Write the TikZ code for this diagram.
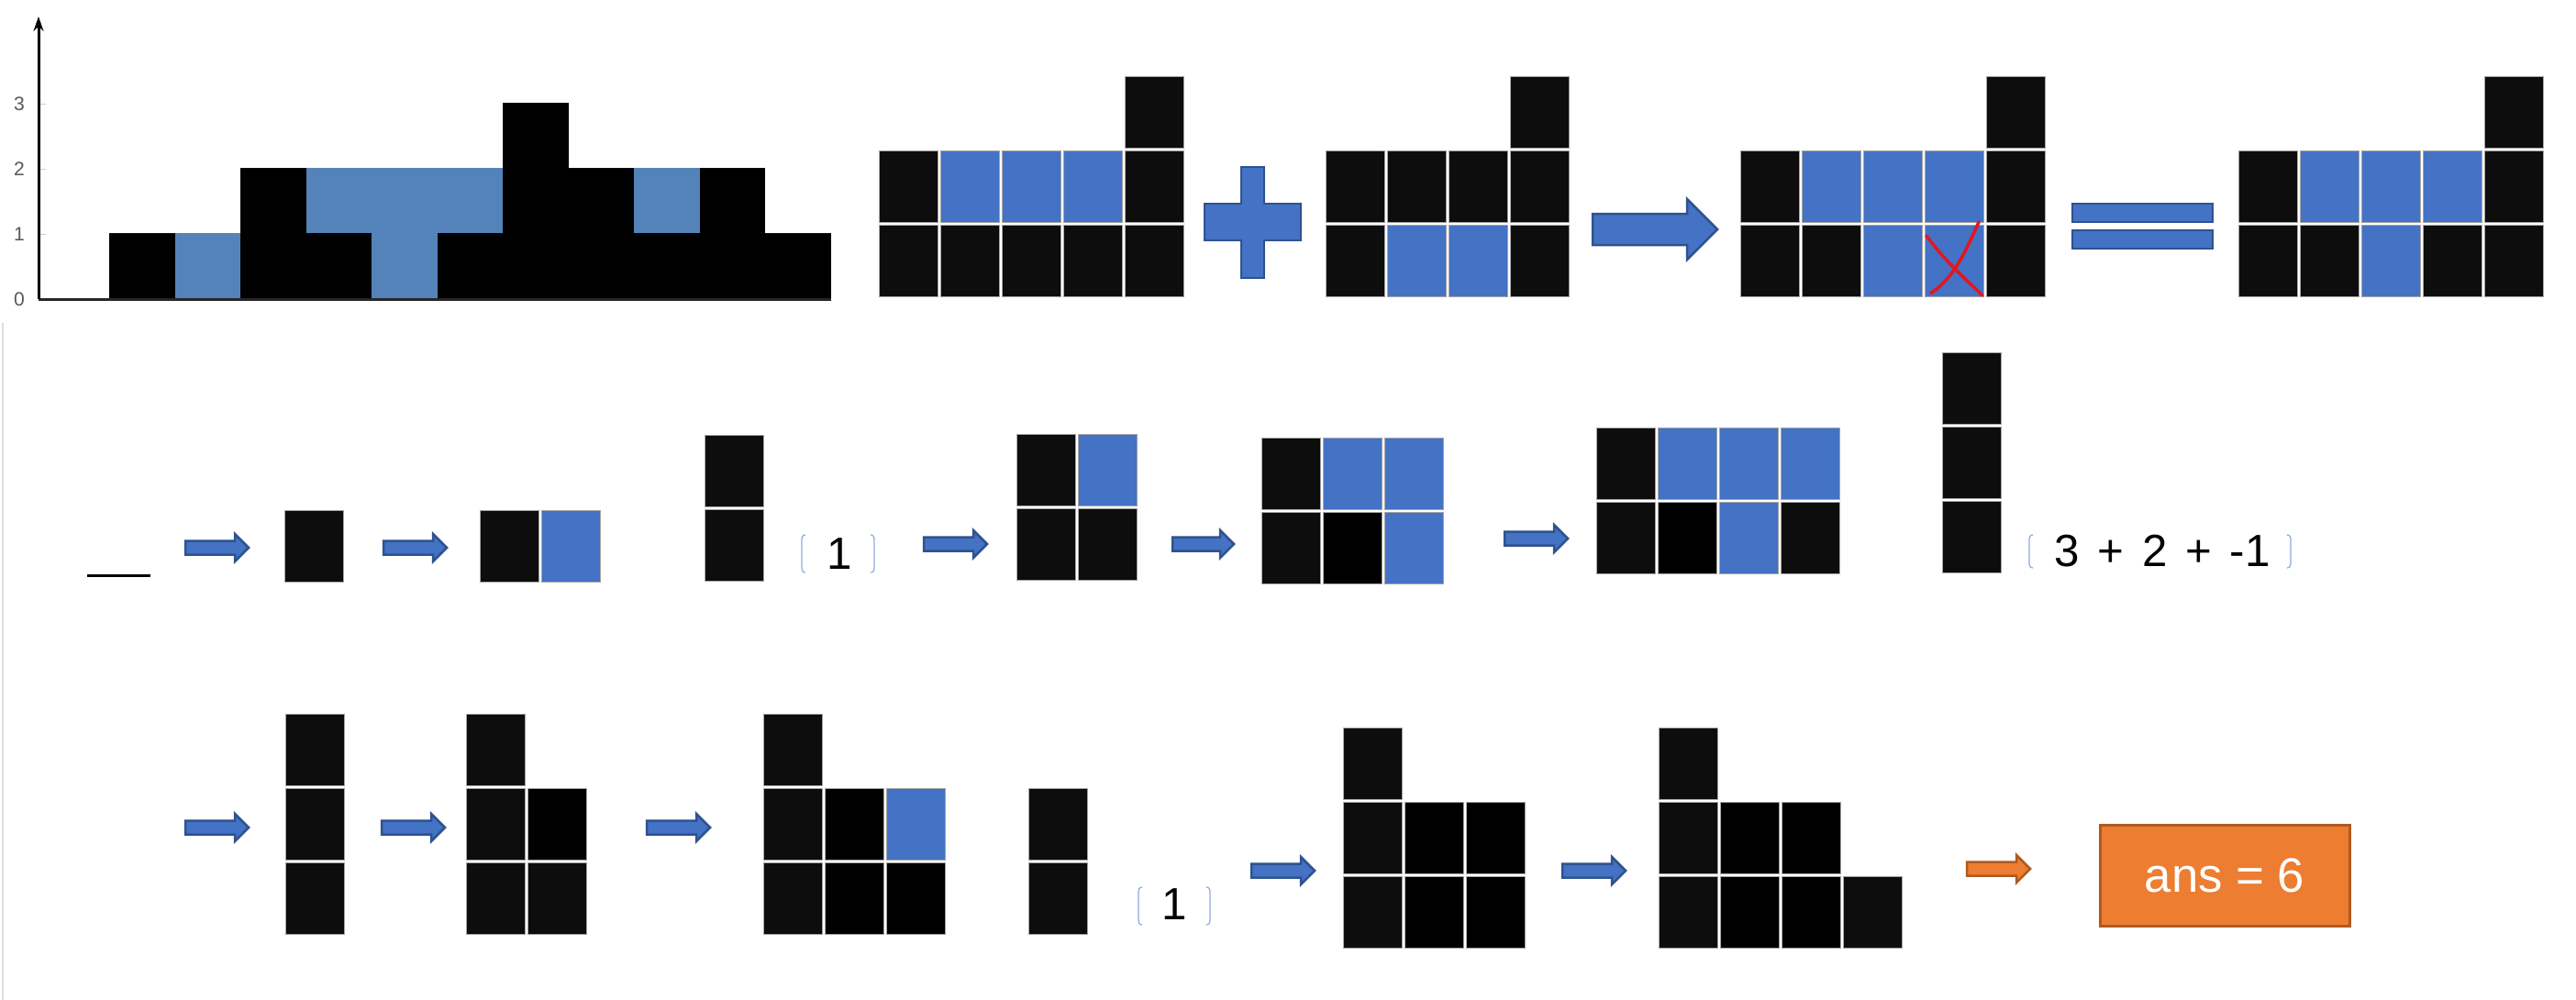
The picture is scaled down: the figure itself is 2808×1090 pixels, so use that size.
\documentclass[tikz,border=0pt]{standalone}
\usepackage{fontspec}
\setmainfont{Liberation Sans}
\usepackage{tikz}
\usetikzlibrary{arrows.meta}
\definecolor{blk}{RGB}{13,13,13}
\definecolor{cellblue}{RGB}{68,114,196}
\definecolor{waterblue}{RGB}{84,131,186}
\definecolor{arrowline}{RGB}{47,82,143}
\definecolor{orangefill}{RGB}{237,125,49}
\definecolor{orangeline}{RGB}{174,90,33}
\definecolor{xred}{RGB}{228,22,32}
\definecolor{bracketblue}{RGB}{143,170,220}
\definecolor{ticktext}{RGB}{89,89,89}
\newfontfamily\numfont[WordSpace=1.45]{Liberation Sans}
\tikzset{
  cellline/.style={draw=gray!70,line width=0.25pt},
  bluearrow/.style={fill=cellblue,draw=arrowline,line width=0.25mm},
  orangearrow/.style={fill=orangefill,draw=orangeline,line width=0.25mm},
  numlbl/.style={font=\numfont\fontsize{14}{16}\selectfont,inner sep=0pt},
  ticklbl/.style={font=\fontsize{6}{7}\selectfont,text=ticktext,inner sep=0pt},
  bracket/.style={draw=bracketblue,line width=0.35pt},
  xmark/.style={draw=xred,line width=0.35mm,line cap=round}
}
\newcommand{\cellgrid}[3]{%
  \foreach \c/\r/\k in {#3}
    \filldraw[cellline,fill=\k] ({#1+67*\c},{#2+81*\r}) rectangle +(64,78);}
\newcommand{\blockarrow}[4][bluearrow]{%
  \filldraw[#1] ({#2},{#4-7.5}) -- ({#3-15},{#4-7.5}) -- ({#3-15},{#4-15}) -- ({#3},{#4})
    -- ({#3-15},{#4+15}) -- ({#3-15},{#4+7.5}) -- ({#2},{#4+7.5}) -- cycle;}
\newcommand{\bracketpair}[4]{%
  \draw[bracket] ({#1+4},{#3}) .. controls ({#1},{#3}) and ({#1},{#3+3}) .. ({#1},{#3+8})
    -- ({#1},{#4-8}) .. controls ({#1},{#4-3}) and ({#1},{#4}) .. ({#1+4},{#4});
  \draw[bracket] ({#2-4},{#3}) .. controls ({#2},{#3}) and ({#2},{#3+3}) .. ({#2},{#3+8})
    -- ({#2},{#4-8}) .. controls ({#2},{#4-3}) and ({#2},{#4}) .. ({#2-4},{#4});}

\begin{document}
\begin{tikzpicture}[x=0.1mm,y=-0.1mm]
        \useasboundingbox (0,0) rectangle (2808,1090);
        \fill[white] (0,0) rectangle (2808,1090);
        \draw[gray!25,line width=0.2mm] (3,352) -- (3,1090);
        \foreach \i/\h/\w in {0/0/0,1/1/0,2/0/1,3/2/0,4/1/1,5/0/2,6/1/1,7/3/0,8/2/0,9/1/1,10/2/0,11/1/0}{
          \fill[black] ({47.5+71.5*\i},325) rectangle +(71.5,{-71*\h});
          \fill[waterblue] ({47.5+71.5*\i},{325-71*\h}) rectangle +(71.5,{-71*\w});
        }
        \foreach \v in {0,...,3}{
          \draw[gray!40,line width=0.2pt] (42,{326-71*\v}) -- (50,{326-71*\v});
          \node[ticklbl] (tick\v) at (21,{326-71*\v}) {\v};
        }
        \draw[black!85,line width=0.3mm] (42,326) -- (906,326);
        \draw[black,line width=0.3mm,-{Stealth[length=1.6mm,width=1.1mm]}] (42,326) -- (42,18);
        \cellgrid{958}{83}{4/0/blk,0/1/blk,1/1/cellblue,2/1/cellblue,3/1/cellblue,4/1/blk,0/2/blk,1/2/blk,2/2/blk,3/2/blk,4/2/blk}
        \filldraw[bluearrow] (1353,182) -- (1378,182) -- (1378,222) -- (1418,222) -- (1418,262) -- (1378,262)
          -- (1378,303) -- (1353,303) -- (1353,262) -- (1313,262) -- (1313,222) -- (1353,222) -- cycle;
        \cellgrid{1445}{83}{3/0/blk,0/1/blk,1/1/blk,2/1/blk,3/1/blk,0/2/blk,1/2/cellblue,2/2/cellblue,3/2/blk}
        \filldraw[bluearrow] (1736,233) -- (1839,233) -- (1839,217) -- (1872,250) -- (1839,283) -- (1839,267)
          -- (1736,267) -- cycle;
        \cellgrid{1897}{83}{4/0/blk,0/1/blk,1/1/cellblue,2/1/cellblue,3/1/cellblue,4/1/blk,0/2/blk,1/2/blk,2/2/cellblue,3/2/cellblue,4/2/blk}
        \draw[xmark] (2100,257) .. controls (2118,282) and (2140,302) .. (2161,322);
        \draw[xmark] (2157,242) .. controls (2145,268) and (2132,302) .. (2104,320) -- (2110,316);
        \filldraw[bluearrow] (2259,222) rectangle (2412,242);
        \filldraw[bluearrow] (2259,251) rectangle (2412,271);
        \cellgrid{2440}{83}{4/0/blk,0/1/blk,1/1/cellblue,2/1/cellblue,3/1/cellblue,4/1/blk,0/2/blk,1/2/blk,2/2/cellblue,3/2/blk,4/2/blk}
        \draw[black,line width=0.3mm] (95,627) -- (164,627);
        \blockarrow{202}{271}{597}
        \cellgrid{310}{556}{0/0/blk}
        \blockarrow{418}{487}{597}
        \cellgrid{523}{556}{0/0/blk,1/0/cellblue}
        \cellgrid{768}{474}{0/0/blk,0/1/blk}
        \node[numlbl] (one) at (915,604) {1};
        \bracketpair{874}{953}{583}{624}
        \blockarrow{1007}{1076}{593}
        \cellgrid{1108}{473}{0/0/blk,1/0/cellblue,0/1/blk,1/1/blk}
        \blockarrow{1278}{1345}{593}
        \cellgrid{1375}{477}{0/0/blk,1/0/cellblue,2/0/cellblue,0/1/blk,1/1/black,2/1/cellblue}
        \blockarrow{1640}{1709}{587}
        \cellgrid{1740}{466}{0/0/blk,1/0/cellblue,2/0/cellblue,3/0/cellblue,0/1/blk,1/1/black,2/1/cellblue,3/1/blk}
        \cellgrid{2117}{384}{0/0/blk,0/1/blk,0/2/blk}
        \node[numlbl] (sum) at (2357,601) {3 + 2 + -1};
        \bracketpair{2212}{2497}{583}{619}
        \blockarrow{202}{271}{902}
        \cellgrid{311}{778}{0/0/blk,0/1/blk,0/2/blk}
        \blockarrow{416}{485}{902}
        \cellgrid{508}{778}{0/0/blk,0/1/blk,1/1/black,0/2/blk,1/2/blk}
        \blockarrow{705}{774}{902}
        \cellgrid{832}{778}{0/0/blk,0/1/blk,1/1/black,2/1/cellblue,0/2/blk,1/2/black,2/2/black}
        \cellgrid{1121}{859}{0/0/blk,0/1/blk}
        \node[numlbl] (onebis) at (1280,986) {1};
        \bracketpair{1241}{1319}{967}{1008}
        \blockarrow{1364}{1433}{949}
        \cellgrid{1464}{793}{0/0/blk,0/1/blk,1/1/black,2/1/black,0/2/blk,1/2/black,2/2/black}
        \blockarrow{1703}{1772}{949}
        \cellgrid{1808}{793}{0/0/blk,0/1/blk,1/1/black,2/1/black,0/2/blk,1/2/black,2/2/black,3/2/blk}
        \blockarrow[orangearrow]{2144}{2213}{947}
        \node[fill=orangefill,draw=orangeline,line width=0.3mm,minimum width=27.2mm,minimum height=11mm,
          text=white,font=\fontsize{15}{17}\selectfont] (ans) at (2425,954) {ans = 6};
      \end{tikzpicture}
\end{document}
